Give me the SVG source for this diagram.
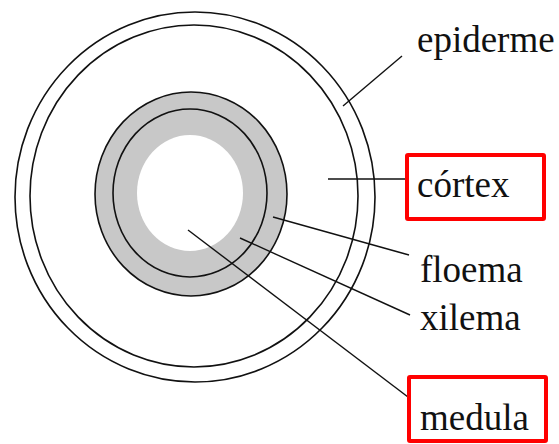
<svg xmlns="http://www.w3.org/2000/svg" width="559" height="444" viewBox="0 0 559 444">
  <style>
    .ring { fill: none; stroke: #111; stroke-width: 1.6; }
    .lead { stroke: #111; stroke-width: 1.4; fill: none; }
    .label { font-family: "Liberation Serif", "Times New Roman", serif; font-size: 37px; fill: #111; }
    .box { fill: none; stroke: #ff0000; stroke-width: 4; }
  </style>
  <rect width="559" height="444" fill="#ffffff"/>

  <!-- stem cross-section -->
  <g id="epiderme-outer">
    <ellipse class="ring" cx="195" cy="197" rx="180" ry="185"/>
  </g>
  <g id="epiderme-inner">
    <ellipse class="ring" cx="194" cy="196" rx="164" ry="171"/>
  </g>
  <g id="floema">
    <ellipse cx="191" cy="194" rx="96" ry="102" fill="#c8c8c8" stroke="#111" stroke-width="1.6"/>
  </g>
  <g id="xilema">
    <ellipse class="ring" cx="190" cy="193" rx="77" ry="84"/>
  </g>
  <g id="medula">
    <ellipse cx="190" cy="193" rx="53" ry="58" fill="#ffffff"/>
  </g>

  <!-- leader lines -->
  <g id="connectors">
    <line class="lead" x1="343" y1="106" x2="402" y2="56"/>
    <line class="lead" x1="328" y1="179" x2="407" y2="179"/>
    <line class="lead" x1="273" y1="217" x2="409" y2="255"/>
    <line class="lead" x1="240" y1="238" x2="410" y2="315"/>
    <line class="lead" x1="188" y1="230" x2="408" y2="397"/>
  </g>

  <!-- labels -->
  <g id="label-epiderme">
    <text class="label" x="417" y="52">epiderme</text>
  </g>
  <g id="label-cortex">
    <rect class="box" x="407" y="155" width="137" height="64" rx="1"/>
    <text class="label" x="417" y="197">córtex</text>
  </g>
  <g id="label-floema">
    <text class="label" x="420" y="282">floema</text>
  </g>
  <g id="label-xilema">
    <text class="label" x="420" y="330">xilema</text>
  </g>
  <g id="label-medula">
    <rect class="box" x="409" y="377" width="137" height="64" rx="1"/>
    <text class="label" x="420" y="430">medula</text>
  </g>
</svg>
